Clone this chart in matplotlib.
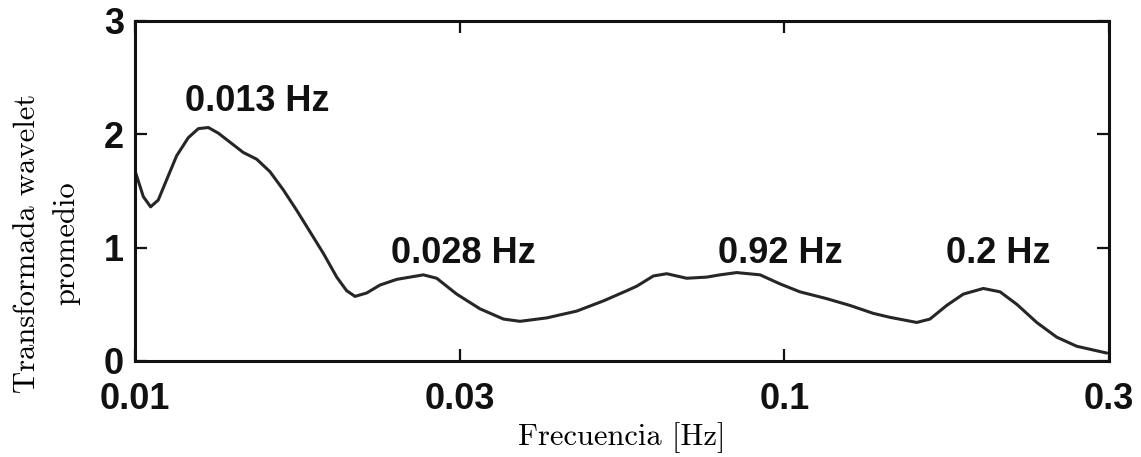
import numpy as np
import matplotlib
matplotlib.use("Agg")
import matplotlib.pyplot as plt

# Frequency (Hz) and averaged wavelet transform values
freq = [0.01000, 0.01030, 0.01057, 0.01086, 0.01119, 0.01159, 0.01208, 0.01252,
        0.01297, 0.01344, 0.01401, 0.01468, 0.01540, 0.01614, 0.01692, 0.01774,
        0.01860, 0.01950, 0.02045, 0.02118, 0.02182, 0.02274, 0.02384, 0.02529,
        0.02780, 0.02915, 0.03129, 0.03399, 0.03693, 0.03916, 0.04305, 0.04788,
        0.05264, 0.05719, 0.05925, 0.06284, 0.06590, 0.07072, 0.07593, 0.07960,
        0.08445, 0.09175, 0.09848, 0.1057, 0.1162, 0.1262, 0.1371, 0.1455,
        0.1599, 0.1676, 0.1778, 0.1886, 0.2025, 0.2149, 0.2280, 0.2447,
        0.2627, 0.2820, 0.3027, 0.3137]
wavelet = [1.68, 1.45, 1.36, 1.42, 1.60, 1.81, 1.97, 2.05,
           2.06, 2.01, 1.93, 1.84, 1.78, 1.67, 1.51, 1.33,
           1.14, 0.95, 0.74, 0.62, 0.57, 0.60, 0.67, 0.72,
           0.76, 0.73, 0.59, 0.46, 0.37, 0.35, 0.38, 0.44,
           0.53, 0.62, 0.66, 0.75, 0.77, 0.73, 0.74, 0.76,
           0.78, 0.76, 0.68, 0.61, 0.55, 0.49, 0.42, 0.385,
           0.34, 0.37, 0.49, 0.59, 0.64, 0.61, 0.50, 0.34,
           0.21, 0.13, 0.09, 0.07]

x_tick_labels = ["0.01", "0.03", "0.1", "0.3"]
x_tick_exp = [-2.0, -1.5, -1.0, -0.5]
y_ticks = [0, 1, 2, 3]

peak_labels = ["0.013 Hz", "0.028 Hz", "0.92 Hz", "0.2 Hz"]
peak_freq = [0.01541, 0.0320, 0.0985, 0.2134]
peak_val = [2.204, 0.862, 0.862, 0.862]

sans = ["Liberation Sans Narrow", "Liberation Sans", "DejaVu Sans"]
serif = ["cmr10", "DejaVu Serif"]

fig = plt.figure(figsize=(11.41, 4.57), dpi=100)
ax = fig.add_axes([0.1183, 0.2101, 0.8537, 0.7440])

ax.plot(freq, wavelet, color="#262626", lw=2.2, solid_joinstyle="round",
        solid_capstyle="round")
ax.set_xscale("log")
ax.set_xlim(10 ** x_tick_exp[0], 10 ** x_tick_exp[-1])
ax.set_ylim(y_ticks[0], y_ticks[-1])

ax.set_xticks([10 ** e for e in x_tick_exp])
ax.set_xticklabels(x_tick_labels)
ax.xaxis.set_minor_locator(matplotlib.ticker.NullLocator())
ax.set_yticks(y_ticks)
ax.set_yticklabels([str(v) for v in y_ticks])

for sp in ax.spines.values():
    sp.set_linewidth(2.2)
    sp.set_color("#111111")

ax.tick_params(axis="both", which="major", direction="in", length=8.5,
               width=1.6, top=True, right=True, color="#111111")
ax.tick_params(axis="x", pad=15)
ax.tick_params(axis="y", pad=8)
for lab in ax.get_xticklabels() + ax.get_yticklabels():
    lab.set_fontfamily(sans)
    lab.set_fontweight("bold")
    lab.set_fontsize(26)
    lab.set_color("#111111")

for txt, fx, fy in zip(peak_labels, peak_freq, peak_val):
    ax.text(fx, fy, txt, ha="center", va="baseline", fontsize=26,
            fontweight="bold", family=sans, color="#111111")

fig.text(622 / 1141, 1 - 438 / 457, "Frecuencia [Hz]", ha="center", va="center",
         fontsize=22, family=serif)
fig.text(47 / 1141, 1 - 243 / 457, "Transformada wavelet\npromedio", ha="center",
         va="center", rotation=90, fontsize=22, family=serif,
         multialignment="center", linespacing=1.5)

fig.savefig("out.png", dpi=100)
